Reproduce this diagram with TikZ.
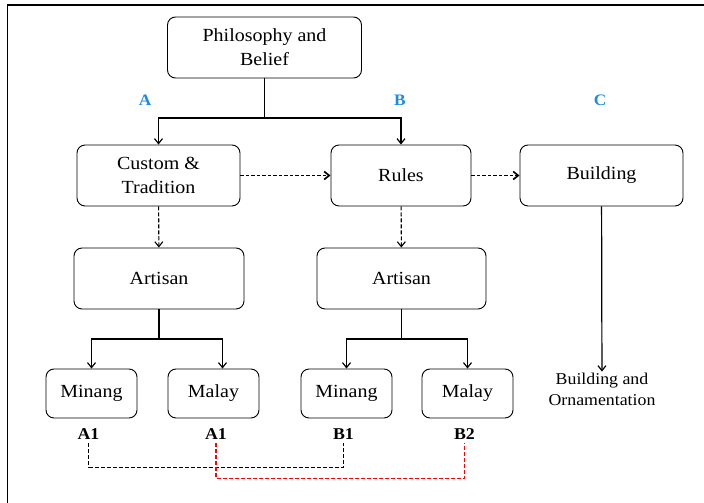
\documentclass[tikz,border=0pt]{standalone}
\usepackage{fontspec}
\setmainfont{Liberation Serif}[FakeStretch=1.08]
\usetikzlibrary{arrows.meta}
\definecolor{labelblue}{RGB}{30,140,225}

\begin{document}
\begin{tikzpicture}[x=1pt,y=-1pt,->,>={Straight Barb[length=5pt,width=8pt]},line width=1.2pt]
  \tikzstyle{box}=[draw, line width=0.9pt, rounded corners=8pt, align=center, minimum height=61pt, font=\fontsize{18.5}{24}\selectfont]
  \tikzstyle{small box}=[box, minimum width=91pt, minimum height=49pt]
  \tikzstyle{letter}=[text=labelblue, font=\fontsize{16}{18}\selectfont\bfseries]
  \tikzstyle{group}=[font=\fontsize{16.5}{18}\selectfont\bfseries]
  \tikzstyle{link}=[line width=1.1pt, dash pattern=on 4pt off 2pt]
  \tikzstyle{flow}=[line width=1.7pt, dash pattern=on 3.5pt off 2pt]

  \useasboundingbox (0,0) rectangle (704,503);
  \draw[-, line width=1.8pt] (704,5) -- (7.5,5) -- (7.5,503);

  \node[box, minimum width=194pt] (phil) at (264.5,47.5) {Philosophy and\\Belief};
  \node[box, minimum width=163pt] (custom) at (158.5,175.5) {Custom \&\\Tradition};
  \node[box, minimum width=140pt] (rules) at (401,175.5) {Rules};
  \node[box, minimum width=163pt] (building) at (601.5,175.5) {Building};
  \node[box, minimum width=170pt] (artisanA) at (159,278.5) {Artisan};
  \node[box, minimum width=169pt] (artisanB) at (401.5,278.5) {Artisan};

  \node[small box] (minangA) at (91.5,393.5) {Minang};
  \node[small box] (malayA) at (213.5,393.5) {Malay};
  \node[small box] (minangB) at (346.5,393.5) {Minang};
  \node[small box] (malayB) at (467.5,393.5) {Malay};

  \node[letter] (labA) at (145,100) {A};
  \node[letter] (labB) at (400,100) {B};
  \node[letter] (labC) at (600,100) {C};

  \node[group] (a1) at (88.5,434) {A1};
  \node[group] (a1m) at (216,434) {A1};
  \node[group] (b1) at (343.5,434) {B1};
  \node[group] (b2) at (464.5,434) {B2};

  \node[align=center, font=\fontsize{16.5}{21}\selectfont, inner sep=1pt] (orn) at (602,389.5) {Building and\\Ornamentation};

  \coordinate (top) at (264.5,118);
  \coordinate (splitA) at (159,339);
  \coordinate (splitB) at (401.5,339);

  \draw[-] (phil) -- (top);
  \draw (top) -| (custom.north);
  \draw (top) -| (rules.north);
  \draw[flow] (custom) -- (rules);
  \draw[flow] (rules) -- (building);
  \draw[link] (custom) -- (artisanA);
  \draw[link] (rules) -- (artisanB);
  \draw (building) -- (orn);

  \draw[-] (artisanA) -- (splitA);
  \draw (splitA) -| (minangA.north);
  \draw (splitA) -| ([xshift=9pt]malayA.north);
  \draw[-] (artisanB) -- (splitB);
  \draw (splitB) -| (minangB.north);
  \draw (splitB) -| (malayB.north);

  \draw[link, -] (a1.south) -- ++(0,24) -| (b1.south);
  \draw[link, -, red] (a1m.south) -- ++(0,35) -| (b2.south);
\end{tikzpicture}
\end{document}
